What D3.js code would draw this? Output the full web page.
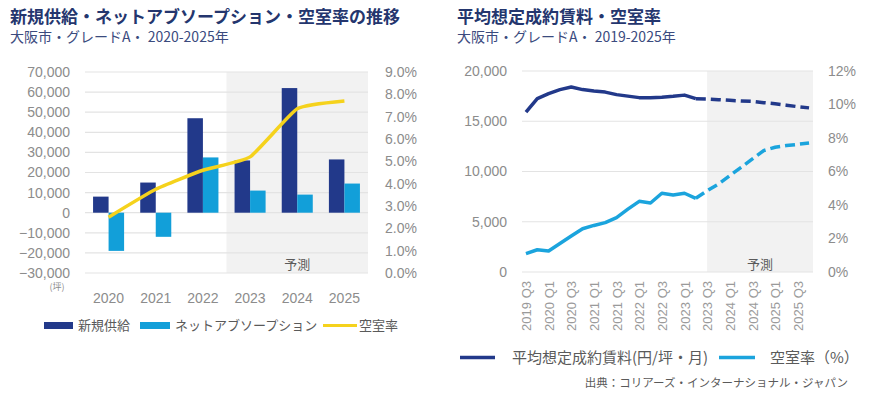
<!DOCTYPE html>
<html>
<head>
<meta charset="utf-8">
<script src="https://cdn.jsdelivr.net/npm/d3@7"></script>
<style>
  body { margin: 0; background: #fff; }
  svg { display: block; font-family: "Open Sans", "Noto Sans CJK JP", sans-serif; }
  .grid line { stroke: #e3e3e3; stroke-width: 1.2; }
  .tick-label { fill: #8c8c8c; font-size: 14px; }
  .title { fill: #24366e; font-family: "Noto Sans CJK JP", sans-serif; font-weight: bold; font-size: 17px; }
  .subtitle { fill: #3b4b7e; font-family: "Noto Sans CJK JP", sans-serif; font-size: 14px; }
  .legend-text { fill: #5a5a5a; font-family: "Noto Sans CJK JP", sans-serif; }
</style>
</head>
<body>
<svg id="chart" width="881" height="396"></svg>
<script>
// ---- left chart data ----
const years = ['2020', '2021', '2022', '2023', '2024', '2025'];
const newSupply = [8000, 15000, 47000, 26000, 62000, 26500];
const netAbsorption = [-19000, -12000, 27500, 11000, 9000, 14500];
const vacancyYearly = [2.5, 3.75, 4.6, 5.2, 7.35, 7.7];
const leftTicks = [-30000, -20000, -10000, 0, 10000, 20000, 30000, 40000, 50000, 60000, 70000];
const leftPctTicks = [0, 1, 2, 3, 4, 5, 6, 7, 8, 9];

// ---- right chart data (quarterly, 2019 Q3 - 2025 Q4) ----
const quarters = ['2019 Q3', '2019 Q4', '2020 Q1', '2020 Q2', '2020 Q3', '2020 Q4',
  '2021 Q1', '2021 Q2', '2021 Q3', '2021 Q4', '2022 Q1', '2022 Q2', '2022 Q3', '2022 Q4',
  '2023 Q1', '2023 Q2', '2023 Q3', '2023 Q4', '2024 Q1', '2024 Q2', '2024 Q3', '2024 Q4',
  '2025 Q1', '2025 Q2', '2025 Q3', '2025 Q4'];
const rent = [15900, 17250, 17750, 18150, 18400, 18150, 18000, 17900, 17650, 17500,
  17350, 17350, 17400, 17480, 17600, 17250, 17220, 17150, 17080, 17020,
  16980, 16850, 16750, 16600, 16450, 16330];
const vacancyQuarterly = [1.1, 1.33, 1.25, 1.7, 2.15, 2.58, 2.78, 2.95, 3.25, 3.75,
  4.22, 4.12, 4.7, 4.6, 4.7, 4.4, 4.85, 5.25, 5.75, 6.25,
  6.75, 7.25, 7.45, 7.55, 7.62, 7.7];
const lastActual = '2023 Q2';
const forecastStart = '2023 Q3';
const rentTicks = [0, 5000, 10000, 15000, 20000];
const rightPctTicks = [0, 2, 4, 6, 8, 10, 12];

const navy = '#22398a';
const sky = '#129fd9';
const yellow = '#f5d21c';
const shade = '#f2f2f2';

const svg = d3.select('#chart');
const fmt = d3.format(',');

// ================= left chart =================
const L = { left: 85, right: 368, top: 72, bottom: 273 };

svg.append('text').attr('class', 'title').attr('x', 10).attr('y', 23)
  .text('新規供給・ネットアブソープション・空室率の推移');
svg.append('text').attr('class', 'subtitle').attr('x', 10).attr('y', 42)
  .text('大阪市・グレードA・ 2020-2025年');

const x0 = d3.scaleBand().domain(years).range([L.left, L.right]);
const x1 = d3.scaleBand().domain(['supply', 'absorption'])
  .range([0, x0.bandwidth()]).paddingInner(0).paddingOuter(0.52);
const yL = d3.scaleLinear().domain([-30000, 70000]).range([L.bottom, L.top]);
const yLp = d3.scaleLinear().domain([0, 9]).range([L.bottom, L.top]);

const left = svg.append('g');

// forecast shading
left.append('rect')
  .attr('x', x0('2023')).attr('y', L.top)
  .attr('width', L.right - x0('2023')).attr('height', L.bottom - L.top)
  .attr('fill', shade);

left.append('g').attr('class', 'grid')
  .selectAll('line').data(leftTicks).join('line')
  .attr('x1', L.left).attr('x2', L.right)
  .attr('y1', d => yL(d)).attr('y2', d => yL(d));

left.append('text').attr('x', (x0('2023') + L.right) / 2).attr('y', 269)
  .attr('text-anchor', 'middle').attr('class', 'legend-text').attr('font-size', 13)
  .text('予測');

const yAxisL = d3.axisLeft(yL).tickValues(leftTicks).tickFormat(fmt).tickSize(0).tickPadding(15);
left.append('g').attr('transform', `translate(${L.left},0)`).call(yAxisL)
  .call(g => g.select('.domain').remove())
  .call(g => g.selectAll('text').attr('class', 'tick-label').attr('font-family', null).attr('font-size', null));

const yAxisLp = d3.axisRight(yLp).tickValues(leftPctTicks).tickFormat(d => d.toFixed(1) + '%')
  .tickSize(0).tickPadding(17);
left.append('g').attr('transform', `translate(${L.right},0)`).call(yAxisLp)
  .call(g => g.select('.domain').remove())
  .call(g => g.selectAll('text').attr('class', 'tick-label').attr('font-family', null).attr('font-size', null));

const xAxisL = d3.axisBottom(x0).tickSize(0).tickPadding(20);
left.append('g').attr('transform', `translate(0,${L.bottom})`).call(xAxisL)
  .call(g => g.select('.domain').remove())
  .call(g => g.selectAll('text').attr('class', 'tick-label').attr('font-family', null).attr('font-size', null));

left.append('text').attr('x', 57).attr('y', 290).attr('text-anchor', 'middle')
  .attr('fill', '#8c8c8c').attr('font-size', 9).attr('font-family', '"Noto Sans CJK JP"')
  .text('(坪)');

const groups = left.selectAll('.year').data(years).join('g')
  .attr('transform', d => `translate(${x0(d)},0)`);

groups.append('rect')
  .attr('x', x1('supply')).attr('width', x1.bandwidth())
  .attr('y', (d, i) => yL(Math.max(0, newSupply[i])))
  .attr('height', (d, i) => Math.abs(yL(newSupply[i]) - yL(0)))
  .attr('fill', navy);

groups.append('rect')
  .attr('x', x1('absorption')).attr('width', x1.bandwidth())
  .attr('y', (d, i) => yL(Math.max(0, netAbsorption[i])))
  .attr('height', (d, i) => Math.abs(yL(netAbsorption[i]) - yL(0)))
  .attr('fill', sky);

const vacLineL = d3.line()
  .x((d, i) => x0(years[i]) + x0.bandwidth() / 2)
  .y(d => yLp(d))
  .curve(d3.curveCardinal.tension(0.55));

left.append('path').datum(vacancyYearly)
  .attr('d', vacLineL).attr('fill', 'none')
  .attr('stroke', yellow).attr('stroke-width', 3.5);

// left legend
const legL = left.append('g').attr('class', 'legend-text').attr('font-size', 13);
legL.append('rect').attr('x', 44).attr('y', 322).attr('width', 29).attr('height', 7).attr('fill', navy);
legL.append('text').attr('x', 78).attr('y', 330).text('新規供給');
legL.append('rect').attr('x', 140).attr('y', 322).attr('width', 30).attr('height', 7).attr('fill', sky);
legL.append('text').attr('x', 175).attr('y', 330).text('ネットアブソープション');
legL.append('line').attr('x1', 323).attr('x2', 357).attr('y1', 325.5).attr('y2', 325.5)
  .attr('stroke', yellow).attr('stroke-width', 3);
legL.append('text').attr('x', 359).attr('y', 330).text('空室率');

// ================= right chart =================
const R = { left: 522, right: 813, top: 71, bottom: 272 };

svg.append('text').attr('class', 'title').attr('x', 457).attr('y', 23)
  .text('平均想定成約賃料・空室率');
svg.append('text').attr('class', 'subtitle').attr('x', 457).attr('y', 42)
  .text('大阪市・グレードA・ 2019-2025年');

const xq = d3.scalePoint().domain(quarters).range([R.left, R.right]).padding(0.35);
const yR = d3.scaleLinear().domain([0, 20000]).range([R.bottom, R.top]);
const yRp = d3.scaleLinear().domain([0, 12]).range([R.bottom, R.top]);

const right = svg.append('g');

right.append('rect')
  .attr('x', xq(forecastStart)).attr('y', R.top)
  .attr('width', R.right - xq(forecastStart)).attr('height', R.bottom - R.top)
  .attr('fill', shade);

right.append('g').attr('class', 'grid')
  .selectAll('line').data(rentTicks).join('line')
  .attr('x1', R.left).attr('x2', R.right)
  .attr('y1', d => yR(d)).attr('y2', d => yR(d));

right.append('text').attr('x', (xq(forecastStart) + R.right) / 2).attr('y', 269)
  .attr('text-anchor', 'middle').attr('class', 'legend-text').attr('font-size', 13)
  .text('予測');

right.append('g').attr('transform', `translate(${R.left},0)`)
  .call(d3.axisLeft(yR).tickValues(rentTicks).tickFormat(fmt).tickSize(0).tickPadding(15))
  .call(g => g.select('.domain').remove())
  .call(g => g.selectAll('text').attr('class', 'tick-label').attr('font-family', null).attr('font-size', null));

right.append('g').attr('transform', `translate(${R.right},0)`)
  .call(d3.axisRight(yRp).tickValues(rightPctTicks).tickFormat(d => d + '%').tickSize(0).tickPadding(15))
  .call(g => g.select('.domain').remove())
  .call(g => g.selectAll('text').attr('class', 'tick-label').attr('font-family', null).attr('font-size', null));

const labelled = quarters.filter((d, i) => i % 2 === 0);
right.append('g').attr('transform', `translate(0,${R.bottom})`)
  .call(d3.axisBottom(xq).tickValues(labelled).tickSize(0).tickPadding(0))
  .call(g => g.select('.domain').remove())
  .call(g => g.selectAll('text')
    .attr('font-family', null).attr('font-size', 13).attr('fill', '#9a9a9a')
    .attr('text-anchor', 'end').attr('transform', 'rotate(-90)')
    .attr('x', -9).attr('y', 0).attr('dy', '0.36em'));

const splitIdx = quarters.indexOf(lastActual);
function drawSeries(values, scale, color) {
  const pts = values.map((v, i) => [xq(quarters[i]), scale(v)]);
  const line = d3.line();
  right.append('path').datum(pts.slice(0, splitIdx + 1))
    .attr('d', line).attr('fill', 'none').attr('stroke', color)
    .attr('stroke-width', 3.5).attr('stroke-linejoin', 'round');
  right.append('path').datum(pts.slice(splitIdx))
    .attr('d', line).attr('fill', 'none').attr('stroke', color)
    .attr('stroke-width', 3.5).attr('stroke-dasharray', '10,5');
}
drawSeries(rent, yR, navy);
drawSeries(vacancyQuarterly, yRp, '#1ba4dd');

// right legend
const legR = right.append('g').attr('class', 'legend-text').attr('font-size', 15);
legR.append('line').attr('x1', 460).attr('x2', 495).attr('y1', 357.5).attr('y2', 357.5)
  .attr('stroke', navy).attr('stroke-width', 3.5);
legR.append('text').attr('x', 512).attr('y', 363).text('平均想定成約賃料(円/坪・月)');
legR.append('line').attr('x1', 719).attr('x2', 755).attr('y1', 357.5).attr('y2', 357.5)
  .attr('stroke', '#1ba4dd').attr('stroke-width', 3.5);
legR.append('text').attr('x', 770).attr('y', 363).text('空室率（%）');

svg.append('text').attr('class', 'legend-text').attr('x', 848).attr('y', 387)
  .attr('text-anchor', 'end').attr('font-size', 11.5)
  .text('出典：コリアーズ・インターナショナル・ジャパン');
</script>
</body>
</html>
